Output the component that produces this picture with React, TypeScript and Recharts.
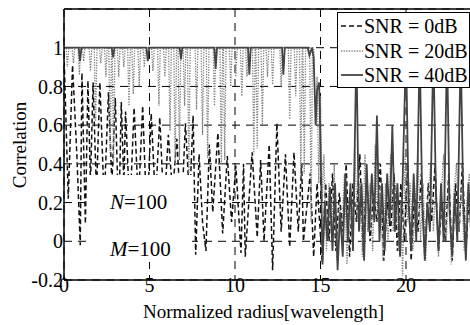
import React from 'react';
import { LineChart, Line, XAxis, YAxis, CartesianGrid, ReferenceLine, Label } from 'recharts';

const FONT = '"Liberation Serif", "Times New Roman", serif';

const xTicks = [0, 5, 10, 15, 20];
const yTicks = [-0.2, 0, 0.2, 0.4, 0.6, 0.8, 1];

const seriesNames = ['SNR = 0dB', 'SNR = 20dB', 'SNR = 40dB'];

// SNR = 0dB (dashed)
const snr0: [number, number][] = [
  [0, 0.97], [0.25, 0.22], [0.5, 0.91], [0.75, 0.45], [0.95, -0.02], [1.05, 0.87], [1.25, 0.09], [1.4, 0.83],
  [1.55, 0.3], [1.7, 0.82], [1.9, 0.25], [2.1, 0.82], [2.35, 0.2], [2.6, 0.77], [2.8, 0.3], [3.0, 0.74],
  [3.2, 0.1], [3.35, 0.72], [3.5, 0.3], [3.6, 0.67], [3.85, 0.15], [4.1, 0.69], [4.35, 0.2], [4.6, 0.7],
  [4.85, 0.1], [5.1, 0.66], [5.35, 0.2], [5.6, 0.64], [5.85, 0.15], [6.1, 0.55], [6.35, 0.25], [6.6, 0.53],
  [6.85, 0.1], [7.1, 0.61], [7.35, 0.2], [7.55, 0.65], [7.7, -0.07], [7.9, 0.45], [8.1, 0.1], [8.3, -0.05],
  [8.5, 0.5], [8.7, 0.15], [9.0, 0.56], [9.28, 0.04], [9.55, 0.44], [9.8, 0.1], [10.05, 0.39], [10.35, -0.06],
  [10.5, 0.4], [10.6, -0.08], [11.0, 0.46], [11.3, 0.02], [11.5, 0.42], [11.7, 0.0], [12.0, 0.5], [12.2, -0.15],
  [12.45, 0.61], [12.7, 0.05], [12.95, 0.45], [13.2, -0.03], [13.45, 0.46], [13.7, 0.05], [13.9, 0.4], [14.0, 0.0],
  [14.4, 0.35], [14.6, -0.08], [14.8, 0.3], [15.1, -0.11], [15.3, 0.3], [15.5, 0.0], [15.7, 0.35], [15.9, -0.05],
  [16.1, 0.25], [16.3, 0.05], [16.5, 0.4], [16.7, -0.08], [16.9, 0.3], [17.1, 0.1], [17.3, 0.45], [17.5, -0.05],
  [17.7, 0.35], [17.9, 0.0], [18.1, 0.25], [18.3, 0.1], [18.5, 0.4], [18.7, -0.1], [18.9, 0.2], [19.1, 0.05],
  [19.3, 0.35], [19.5, -0.05], [19.7, 0.3], [19.9, 0.0], [20.1, 0.4], [20.3, -0.1], [20.5, 0.25], [20.7, 0.05],
  [20.9, 0.35], [21.1, -0.08], [21.3, 0.3], [21.5, 0.1], [21.7, 0.4], [21.9, -0.05], [22.1, 0.2], [22.3, 0.0],
  [22.5, 0.35], [22.7, -0.1], [22.9, 0.3], [23.1, 0.05], [23.3, 0.4], [23.5, -0.05], [23.7, 0.25], [23.9, 0.0],
  [24.1, 0.3], [24.3, 0.1], [24.5, 0.3], [24.7, 0.0], [25, 0.2],
];

// SNR = 20dB (dotted)
const snr20: [number, number][] = [
  [0, 1], [0.12, 1], [0.2, 0.9], [0.28, 1], [0.47, 1], [0.55, 0.92], [0.63, 1], [0.82, 1], [0.9, 0.86], [0.98, 1],
  [1.07, 1], [1.15, 0.93], [1.23, 1], [1.47, 1], [1.55, 0.88], [1.63, 1], [1.77, 1], [1.85, 0.62], [1.93, 1],
  [2.07, 1], [2.15, 0.92], [2.23, 1], [2.37, 1], [2.45, 0.85], [2.53, 1], [2.62, 1], [2.7, 0.45], [2.78, 1],
  [2.82, 1], [2.9, 0.4], [2.98, 1], [3.12, 1], [3.2, 0.85], [3.28, 1], [3.42, 1], [3.5, 0.9], [3.58, 1],
  [3.72, 1], [3.8, 0.7], [3.88, 1], [3.97, 1], [4.05, 0.76], [4.13, 1], [4.32, 1], [4.4, 0.8], [4.48, 1],
  [4.62, 1], [4.7, 0.9], [4.78, 1], [5.12, 1], [5.2, 0.88], [5.28, 1], [5.47, 1], [5.55, 0.7], [5.63, 1],
  [5.82, 1], [5.9, 0.85], [5.98, 1], [6.12, 1], [6.2, 0.57], [6.28, 1], [6.42, 1], [6.5, 0.4], [6.58, 1],
  [6.67, 1], [6.75, 0.42], [6.83, 1], [6.97, 1], [7.05, 0.7], [7.13, 1], [7.22, 1], [7.3, 0.35], [7.38, 1],
  [7.67, 1], [7.75, 0.68], [7.83, 1], [8.02, 1], [8.1, 0.55], [8.18, 1], [8.32, 1], [8.4, 0.43], [8.48, 1],
  [8.72, 1], [8.8, 0.7], [8.88, 1], [9.12, 1], [9.2, 0.4], [9.28, 1], [9.32, 1], [9.4, 0.42], [9.48, 1],
  [9.67, 1], [9.75, 0.8], [9.83, 1], [9.97, 1], [10.05, 0.85], [10.13, 1], [10.32, 1], [10.4, 0.75], [10.48, 1],
  [10.62, 1], [10.7, 0.85], [10.78, 1], [11.02, 1], [11.1, 0.45], [11.18, 1], [11.22, 1], [11.3, 0.48], [11.38, 1],
  [11.52, 1], [11.6, 0.6], [11.68, 1], [11.82, 1], [11.9, 0.85], [11.98, 1], [12.12, 1], [12.2, 0.81], [12.28, 1],
  [12.62, 1], [12.7, 0.8], [12.78, 1], [13.12, 1], [13.2, 0.63], [13.28, 1], [13.47, 1], [13.55, 0.75], [13.63, 1],
  [13.77, 1], [13.85, 0.33], [13.93, 1], [13.97, 1], [14.05, 0.35], [14.13, 1], [14.37, 1], [14.45, 0.1], [14.53, 1],
  [14.6, 1], [14.7, 0.6], [14.8, 0.85], [14.9, 0.3], [15.0, 0.75], [15.1, 0.2], [15.2, 0.45], [15.35, -0.05],
  [15.5, 0.3], [15.65, 0.0], [15.8, 0.4], [15.95, -0.1], [16.1, 0.2], [16.25, 0.05], [16.4, 0.35], [16.55, -0.12],
  [16.7, 0.25], [16.85, 0.0], [17.0, 0.5], [17.15, 0.1], [17.3, 0.3], [17.45, -0.08], [17.6, 0.45], [17.75, 0.05],
  [17.9, 0.3], [18.05, -0.05], [18.2, 0.5], [18.35, 0.1], [18.5, 0.25], [18.65, -0.1], [18.8, 0.3], [18.95, 0.0],
  [19.1, 0.45], [19.25, 0.05], [19.4, 0.3], [19.55, -0.05], [19.7, 0.2], [19.8, -0.18], [19.95, 0.45], [20.1, 0.1],
  [20.25, 0.3], [20.4, -0.05], [20.55, 0.2], [20.7, 0.45], [20.85, 0.0], [21.0, 0.3], [21.15, -0.1], [21.3, 0.25],
  [21.45, 0.4], [21.6, 0.05], [21.75, 0.3], [21.9, -0.08], [22.05, 0.2], [22.2, 0.45], [22.35, 0.0], [22.5, 0.3],
  [22.65, -0.12], [22.8, 0.25], [22.95, 0.4], [23.1, 0.05], [23.25, 0.3], [23.4, -0.05], [23.55, 0.2], [23.7, 0.35],
  [23.85, -0.1], [24.0, 0.25], [24.2, 0.05], [24.4, 0.3], [24.6, 0.0], [24.8, 0.25], [25, 0.1],
];

// SNR = 40dB (solid)
const snr40: [number, number][] = [
  [0, 1], [0.86, 1], [0.94, 0.93], [1.02, 1], [2.79, 1], [2.87, 0.95], [2.95, 1], [4.82, 1], [4.9, 0.93], [4.98, 1],
  [6.76, 1], [6.84, 0.94], [6.92, 1], [8.79, 1], [8.87, 0.89], [8.95, 1], [10.76, 1], [10.84, 0.86], [10.92, 1],
  [12.75, 1], [12.83, 0.86], [12.91, 1], [14.25, 1], [14.35, 0.96], [14.5, 1.0], [14.6, 0.95], [14.72, 0.6],
  [14.8, 0.78], [14.92, 0.82], [15.0, 0.5], [15.12, -0.12], [15.25, 0.2], [15.4, 0.0], [15.55, 0.28], [15.7, -0.05],
  [15.85, 0.3], [16.0, -0.15], [16.15, 0.15], [16.3, -0.08], [16.45, 0.35], [16.6, 0.0], [16.75, 0.3], [16.9, -0.05],
  [17.1, 1.0], [17.25, 0.05], [17.4, 0.3], [17.55, -0.1], [17.7, 0.4], [17.85, 0.05], [18.0, 0.35], [18.15, 0.1],
  [18.3, 0.65], [18.45, 0.0], [18.6, 0.3], [18.75, -0.05], [18.9, 0.35], [19.05, 0.1], [19.2, 0.6], [19.35, 0.05],
  [19.5, 0.3], [19.65, -0.08], [19.8, 0.3], [20.0, 1.0], [20.15, 0.2], [20.3, -0.05], [20.45, 0.35], [20.6, 0.0],
  [20.8, 1.0], [20.95, 0.2], [21.1, -0.1], [21.25, 0.2], [21.4, 0.05], [21.6, 1.0], [21.75, 0.25], [21.9, -0.05],
  [22.05, 0.3], [22.2, 0.0], [22.4, 1.0], [22.55, 0.15], [22.7, -0.08], [22.85, 0.25], [23.0, 0.0], [23.2, 1.0],
  [23.35, 0.2], [23.5, -0.1], [23.65, 0.3], [23.8, 0.05], [24.0, 1.0], [24.15, 0.2], [24.3, -0.05], [24.5, 0.3],
  [24.7, 0.0], [25, 0.3],
];

const toRows = (pts: [number, number][]) => pts.map(([x, y]) => ({ x, y }));

const styles = [
  { stroke: '#111', width: 1.5, dash: '5 3' },
  { stroke: '#808080', width: 1.3, dash: '1.3 1.3' },
  { stroke: '#444', width: 1.8, dash: undefined as string | undefined },
];
const seriesData = [snr0, snr20, snr40];

const XTitle = () => (
  <text x={263.5} y={317.5} textAnchor="middle" fontFamily={FONT} fontSize={19} fill="#000">
    Normalized radius[wavelength]
  </text>
);
const YTitle = () => (
  <text x={25.5} y={145} transform="rotate(-90, 25.5, 145)" textAnchor="middle" fontFamily={FONT} fontSize={19} fill="#000">
    Correlation
  </text>
);

export default function App() {
  const tickStyle = { fontFamily: FONT, fontSize: 20, fill: '#000' };
  return (
    <div style={{ position: 'fixed', left: 0, top: 0, width: 470, height: 325, overflow: 'hidden', background: '#fff' }}>
      <LineChart width={500} height={325} margin={{ top: 9, right: 8.5, bottom: 0, left: 8 }}>
        <CartesianGrid stroke="#000" strokeDasharray="8 6" strokeWidth={1} />
        <XAxis
          dataKey="x"
          type="number"
          domain={[0, 25]}
          ticks={xTicks}
          interval={0}
          height={45}
          tickSize={0}
          tickMargin={-2}
          tickLine={false}
          axisLine={{ stroke: '#000', strokeWidth: 1.5 }}
          tick={tickStyle}
          allowDataOverflow
        >
          <Label content={XTitle} />
        </XAxis>
        <YAxis
          type="number"
          domain={[-0.2, 1.2]}
          ticks={yTicks}
          interval={0}
          width={56}
          tickSize={0}
          tickMargin={1}
          tickLine={false}
          axisLine={{ stroke: '#000', strokeWidth: 1.5 }}
          tick={tickStyle}
          allowDataOverflow
        >
          <Label content={YTitle} />
        </YAxis>
        <ReferenceLine y={1.2} stroke="#000" strokeWidth={1.5} />
        {seriesData.map((d, i) => (
          <Line
            key={seriesNames[i]}
            data={toRows(d)}
            dataKey="y"
            name={seriesNames[i]}
            type="linear"
            stroke={styles[i].stroke}
            strokeWidth={styles[i].width}
            strokeDasharray={styles[i].dash}
            dot={false}
            activeDot={false}
            isAnimationActive={false}
          />
        ))}
      </LineChart>
      {/* annotation box */}
      <div style={{ position: 'absolute', left: 88, top: 175, width: 104, height: 87, background: '#fff' }}>
        <div style={{ position: 'absolute', left: 22, top: 15, fontFamily: FONT, fontSize: 21, lineHeight: '24px', color: '#000', whiteSpace: 'nowrap' }}>
          <i>N</i>=100
        </div>
        <div style={{ position: 'absolute', left: 22, top: 62, fontFamily: FONT, fontSize: 21, lineHeight: '24px', color: '#000', whiteSpace: 'nowrap' }}>
          <i>M</i>=100
        </div>
      </div>
      {/* legend */}
      <div style={{ position: 'absolute', left: 337, top: 12, width: 131, height: 74, background: '#fff', border: '1px solid #000' }}>
        {seriesNames.map((n, i) => (
          <div key={n} style={{ position: 'absolute', left: 3, top: 1 + i * 24.5, height: 24, display: 'flex', alignItems: 'center', whiteSpace: 'nowrap' }}>
            <svg width={22} height={24} style={{ display: 'block' }}>
              <line x1={0} y1={12} x2={22} y2={12} stroke={styles[i].stroke} strokeWidth={styles[i].width} strokeDasharray={styles[i].dash} />
            </svg>
            <span style={{ fontFamily: FONT, fontSize: 20, color: '#000', marginLeft: 1, lineHeight: '24px' }}>{n}</span>
          </div>
        ))}
      </div>
    </div>
  );
}
